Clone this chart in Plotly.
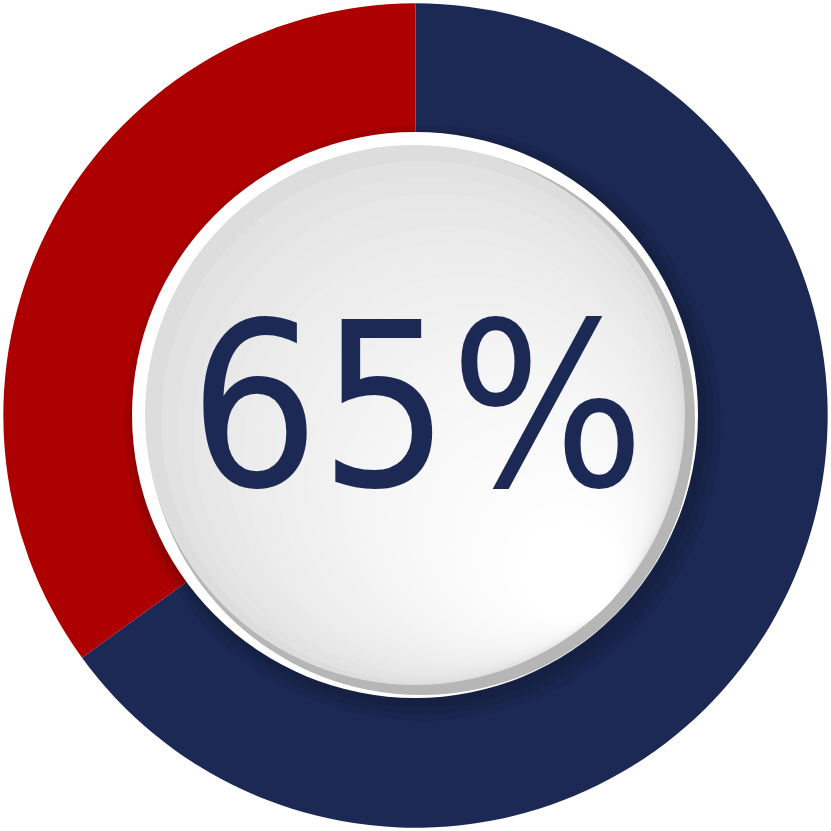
import plotly.graph_objects as go

labels = ["Yes", "No"]
values = [65, 35]
colors = ["#1c2955", "#ad0000"]
center_text = "65%"

W = 831


def circle(cx, cy, r, color, opacity=1.0):
    # pixel coords -> paper coords
    return dict(
        type="circle", xref="paper", yref="paper",
        x0=(cx - r) / W, x1=(cx + r) / W,
        y0=1 - (cy + r) / W, y1=1 - (cy - r) / W,
        fillcolor=color, opacity=opacity, line=dict(width=0), layer="above",
    )


fig = go.Figure(
    go.Pie(
        labels=labels,
        values=values,
        marker=dict(colors=colors, line=dict(width=0)),
        hole=0.66,
        sort=False,
        direction="clockwise",
        rotation=0,
        textinfo="none",
        hoverinfo="skip",
        domain=dict(x=[0.004, 0.996], y=[0.004, 0.996]),
    )
)

shapes = []
# soft shadow around the centre disc
for r, off in [(298, 8), (292, 7), (287, 5)]:
    shapes.append(circle(415 + off, 415 + off, r, "black", 0.07))
# bevel rim: white upper left, grey lower right
shapes.append(circle(415, 415, 283, "#ffffff"))
shapes.append(circle(421, 421, 274, "#b6b6b6"))
# face with a light grey to white gradient (tangent circles toward lower right)
steps = 24
R = 270
ux = uy = 0.7071
px, py = 415 + R * ux, 415 + R * uy
for i in range(steps):
    r = R * (1 - i / steps * 0.85)
    g = int(221 + (255 - 221) * (i / (steps - 1)) ** 0.6)
    shapes.append(circle(px - r * ux, py - r * uy, r, f"rgb({g},{g},{g})"))

fig.update_layout(
    width=W,
    height=W,
    margin=dict(l=0, r=0, t=0, b=0),
    paper_bgcolor="white",
    plot_bgcolor="white",
    showlegend=False,
    shapes=shapes,
    annotations=[
        dict(
            text=center_text, x=417 / W, y=1 - 407 / W, xref="paper", yref="paper",
            showarrow=False, xanchor="center", yanchor="middle",
            font=dict(family="DejaVu Sans Condensed, Liberation Sans Narrow, Roboto",
                      size=228, color="#1c2955"),
        )
    ],
)

fig.write_html(
    "out.html",
    config={"displayModeBar": False},
    post_script="document.body.style.margin='0px';",
)
